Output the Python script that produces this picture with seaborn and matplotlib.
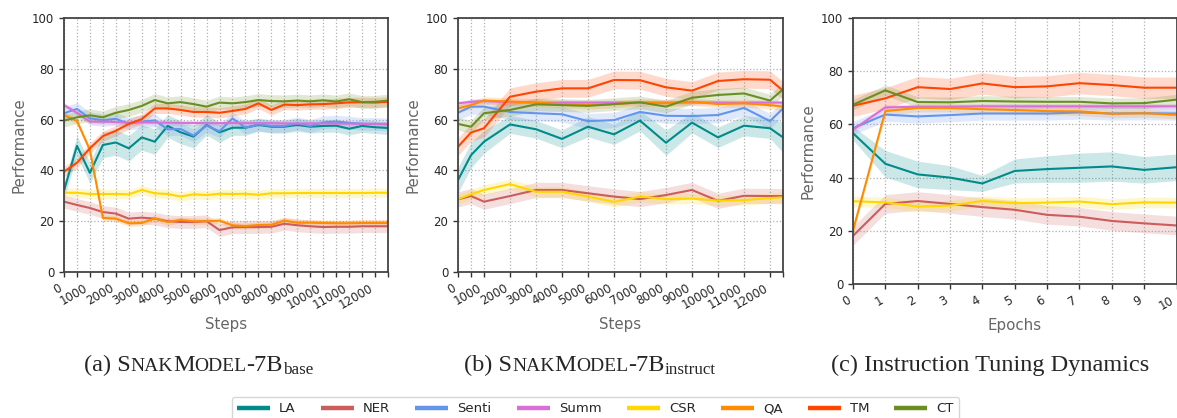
import matplotlib
matplotlib.use("Agg")
import matplotlib.pyplot as plt
from matplotlib.lines import Line2D
import pandas as pd
import seaborn as sns

TASKS = ["LA", "NER", "Senti", "Summ", "CSR", "QA", "TM", "CT"]
COLORS = ["#008B8B", "#CD5C5C", "#6495ED", "#DA70D6",
          "#FFD700", "#FF8C00", "#FF4500", "#6B8E23"]

# (a) base model checkpoints
BASE_STEPS = [0, 500, 1000, 1500, 2000, 2500, 3000, 3500, 4000, 4500, 5000, 5500, 6000,
              6500, 7000, 7500, 8000, 8500, 9000, 9500, 10000, 10500, 11000, 11500, 12000, 12500]
LA_BASE = [32.0, 49.7, 39.0, 50.0, 51.0, 48.7, 53.0, 51.3, 57.5, 55.0, 53.3, 57.9, 55.0,
           56.8, 56.8, 57.9, 57.2, 57.2, 57.9, 57.2, 57.5, 57.6, 56.4, 57.5, 57.0, 56.7]
NER_BASE = [27.7, 26.4, 25.2, 23.6, 23.0, 21.0, 21.4, 21.0, 20.0, 19.7, 19.7, 20.0, 16.5,
            17.6, 17.7, 17.7, 17.8, 19.0, 18.4, 18.0, 17.7, 17.8, 17.8, 18.0, 18.0, 18.0]
SENTI_BASE = [62.5, 64.2, 60.5, 59.8, 60.3, 58.4, 59.2, 59.7, 56.2, 56.3, 53.7, 57.6, 55.4,
              60.5, 56.8, 58.1, 57.5, 57.5, 58.5, 57.5, 58.9, 59.2, 58.8, 58.3, 58.3, 58.1]
SUMM_BASE = [65.7, 62.7, 59.2, 59.2, 59.0, 58.8, 58.9, 58.8, 58.8, 58.7, 58.7, 58.6, 58.6,
             58.7, 58.6, 58.6, 58.6, 58.5, 58.5, 58.5, 58.5, 58.4, 58.4, 58.3, 58.3, 58.3]
CSR_BASE = [31.2, 31.2, 30.7, 30.7, 30.7, 30.6, 32.3, 31.0, 30.7, 29.7, 30.6, 30.3, 30.8,
            30.7, 30.8, 30.4, 31.0, 31.0, 31.1, 31.1, 31.1, 31.1, 31.1, 31.1, 31.2, 31.2]
QA_BASE = [61.8, 59.5, 48.0, 21.3, 21.0, 19.2, 19.3, 21.1, 19.7, 20.5, 20.0, 20.0, 20.2,
           18.4, 18.1, 18.5, 18.6, 20.2, 19.4, 19.4, 19.3, 19.2, 19.2, 19.3, 19.3, 19.3]
TM_BASE = [39.5, 43.0, 48.7, 53.5, 55.6, 58.3, 60.2, 64.4, 64.4, 63.8, 63.0, 63.0, 62.7,
           63.4, 64.2, 66.4, 63.8, 65.9, 65.7, 66.0, 66.1, 66.4, 66.8, 66.8, 66.7, 67.0]
CT_BASE = [59.6, 60.9, 61.7, 60.9, 62.7, 63.8, 65.4, 67.7, 66.4, 66.9, 66.1, 65.1, 66.7,
           66.4, 66.9, 67.7, 67.3, 67.2, 67.5, 67.2, 67.6, 67.1, 68.0, 66.9, 67.0, 67.5]
LA_BASE_BAND = [3, 4, 4, 5, 5, 5, 5, 5, 4.5, 4.5, 4.5, 4, 4,
                3, 3, 2.5, 2.5, 2.5, 2.5, 2.5, 2.5, 2.5, 2.5, 2.5, 2.5, 2.5]
BASE_SPREAD = [None, 2.5, 2.5, 1.0, 1.8, 1.2, 2.0, 2.5]

# (b) instruct model checkpoints
INST_STEPS = [0, 500, 1000, 2000, 3000, 4000, 5000, 6000, 7000, 8000,
              9000, 10000, 11000, 12000, 12500]
LA_INST = [36.2, 46.0, 51.3, 58.1, 56.2, 52.4, 57.2, 54.2, 59.6, 50.9, 58.8, 53.0, 57.6, 56.6, 53.0]
NER_INST = [28.6, 29.9, 27.7, 29.9, 32.3, 32.3, 31.0, 29.7, 28.7, 30.3, 32.3, 28.0, 30.0, 29.9, 29.9]
SENTI_INST = [62.7, 65.1, 65.1, 63.0, 62.5, 62.1, 59.4, 59.8, 63.0, 61.5, 61.4, 61.8, 64.6, 59.4, 64.4]
SUMM_INST = [66.4, 67.0, 67.3, 66.8, 66.7, 66.7, 66.7, 66.7, 66.7, 66.7, 66.7, 66.7, 66.7, 66.7, 66.7]
CSR_INST = [28.7, 30.6, 32.3, 34.6, 31.6, 31.6, 29.7, 27.6, 29.7, 28.7, 28.9, 28.1, 28.3, 29.1, 29.4]
QA_INST = [64.4, 65.7, 67.5, 67.1, 66.7, 66.1, 65.7, 66.1, 66.8, 66.4, 67.1, 66.1, 66.4, 65.7, 65.1]
TM_INST = [49.3, 54.9, 56.6, 69.0, 71.0, 72.3, 72.3, 75.6, 75.5, 72.7, 71.4, 75.2, 75.9, 75.7, 71.4]
CT_INST = [58.3, 57.2, 62.5, 63.8, 66.0, 65.7, 65.4, 66.1, 66.8, 65.1, 68.6, 69.7, 70.3, 67.5, 71.9]
LA_INST_BAND = [5, 5, 4.5, 3.5, 3.5, 3.5, 4, 4, 4, 5, 4, 4, 4, 4, 6]
INST_SPREAD = [None, 3.0, 3.0, 1.0, 2.0, 1.5, 3.5, 2.5]

# (c) instruction tuning epochs
EPOCHS = [0, 1, 2, 3, 4, 5, 6, 7, 8, 9, 10]
LA_EPOCH = [56.7, 45.2, 41.2, 40.0, 37.8, 42.5, 43.2, 43.7, 44.2, 42.9, 43.9]
NER_EPOCH = [18.1, 30.1, 31.2, 30.1, 28.9, 27.9, 26.0, 25.3, 23.7, 22.8, 22.0]
SENTI_EPOCH = [58.6, 63.7, 63.0, 63.5, 64.1, 64.1, 64.1, 64.5, 64.1, 64.2, 64.1]
SUMM_EPOCH = [58.0, 66.4, 66.6, 66.6, 66.8, 66.8, 66.8, 66.8, 66.8, 66.8, 66.8]
CSR_EPOCH = [31.1, 30.7, 29.1, 29.5, 31.2, 30.4, 30.6, 31.0, 30.0, 30.7, 30.6]
QA_EPOCH = [20.1, 65.0, 66.2, 66.2, 65.7, 65.4, 65.0, 64.9, 64.0, 64.2, 63.6]
TM_EPOCH = [67.0, 69.8, 74.0, 73.3, 75.4, 74.0, 74.3, 75.5, 74.8, 73.8, 73.8]
CT_EPOCH = [67.4, 72.8, 68.4, 68.3, 68.8, 68.6, 68.5, 68.5, 67.9, 68.0, 69.3]
LA_EPOCH_BAND = [2.5, 5, 5, 4.5, 3, 4.5, 5, 5.5, 5.5, 5, 5]
EPOCH_SPREAD = [None, 3.5, 2.5, 1.0, 2.0, 1.5, 4.0, 2.0]

W, H = 1177, 418

sns.set_style("ticks", {
    "axes.grid": True,
    "grid.linestyle": ":",
    "grid.color": "#b0b0b0",
    "axes.edgecolor": "#444444",
})
plt.rcParams["font.family"] = ["DejaVu Sans"]
plt.rcParams["grid.linewidth"] = 0.9
plt.rcParams["axes.linewidth"] = 1.3


def long_frame(x, series, spreads, la_band):
    """Mean +/- band replicates so seaborn draws the shaded interval."""
    rows = []
    for task, vals, spread in zip(TASKS, series, spreads):
        band = la_band if spread is None else [spread] * len(x)
        for xi, v, b in zip(x, vals, band):
            for off in (-b, 0.0, b):
                rows.append((xi, v + off, task))
    return pd.DataFrame(rows, columns=["x", "score", "task"])


def draw_panel(ax, x, series, spreads, la_band, xlabel, labels):
    df = long_frame(x, series, spreads, la_band)
    sns.lineplot(data=df, x="x", y="score", hue="task", hue_order=TASKS,
                 palette=COLORS, errorbar=("pi", 100), linewidth=1.5,
                 err_kws={"alpha": 0.2, "linewidth": 0}, legend=False, ax=ax)
    ax.set_xlim(x[0], x[-1])
    ax.set_ylim(0, 100)
    ax.set_yticks([0, 20, 40, 60, 80, 100])
    ax.set_xticks(x)
    ax.set_xticklabels(labels, rotation=30, ha="right")
    ax.tick_params(labelsize=8.5, length=3.5, width=1.0, color="#333333")
    ax.set_xlabel(xlabel, fontsize=10.8, color="#666666")
    ax.set_ylabel("Performance", fontsize=10.8, color="#666666")
    for sp in ax.spines.values():
        sp.set_visible(True)


def px_box(left, right, top, bottom):
    return [left / W, 1 - bottom / H, (right - left) / W, (bottom - top) / H]


fig = plt.figure(figsize=(W / 100, H / 100), dpi=100)
ax_a = fig.add_axes(px_box(64, 388, 18, 272))
ax_b = fig.add_axes(px_box(458, 783, 18, 272))
ax_c = fig.add_axes(px_box(853, 1176.5, 18, 284))

step_labels = lambda xs: [str(s) if s % 1000 == 0 else "" for s in xs]
draw_panel(ax_a, BASE_STEPS,
           [LA_BASE, NER_BASE, SENTI_BASE, SUMM_BASE, CSR_BASE, QA_BASE, TM_BASE, CT_BASE],
           BASE_SPREAD, LA_BASE_BAND, "Steps", step_labels(BASE_STEPS))
draw_panel(ax_b, INST_STEPS,
           [LA_INST, NER_INST, SENTI_INST, SUMM_INST, CSR_INST, QA_INST, TM_INST, CT_INST],
           INST_SPREAD, LA_INST_BAND, "Steps", step_labels(INST_STEPS))
draw_panel(ax_c, EPOCHS,
           [LA_EPOCH, NER_EPOCH, SENTI_EPOCH, SUMM_EPOCH, CSR_EPOCH, QA_EPOCH, TM_EPOCH, CT_EPOCH],
           EPOCH_SPREAD, LA_EPOCH_BAND, "Epochs", [str(e) for e in EPOCHS])

# captions with fake small caps, placed piece by piece
CAP_SIZE = 17.5
renderer = fig.canvas.get_renderer()


def caption(cx, base_y, pieces):
    texts = []
    for s, scale, dy in pieces:
        t = fig.text(0, 0, s, fontsize=CAP_SIZE * scale, family="Liberation Serif",
                     va="baseline", ha="left")
        texts.append((t, dy))
    widths = [t.get_window_extent(renderer).width for t, _ in texts]
    x = cx - sum(widths) / 2
    for (t, dy), w in zip(texts, widths):
        t.set_position((x / W, 1 - (base_y + dy) / H))
        x += w


caption(198.5, 371, [("(a) S", 1, 0), ("NAK", 0.8, 0), ("M", 1, 0), ("ODEL", 0.8, 0),
                     ("-7B", 1, 0), ("base", 0.7, 3)])
caption(590, 371, [("(b) S", 1, 0), ("NAK", 0.8, 0), ("M", 1, 0), ("ODEL", 0.8, 0),
                   ("-7B", 1, 0), ("instruct", 0.7, 3)])
caption(990, 371, [("(c) Instruction Tuning Dynamics", 1, 0)])

handles = [Line2D([], [], color=c, lw=3.2, solid_capstyle="butt") for c in COLORS]
leg = fig.legend(handles, TASKS, ncol=8, loc="upper center",
                 bbox_to_anchor=(595.5 / W, 1 - 397 / H), borderaxespad=0,
                 fontsize=9.5, handlelength=2.5, handletextpad=0.7, columnspacing=1.9,
                 frameon=True)
leg.get_frame().set_edgecolor("#cccccc")

fig.savefig("out.png", dpi=100)
